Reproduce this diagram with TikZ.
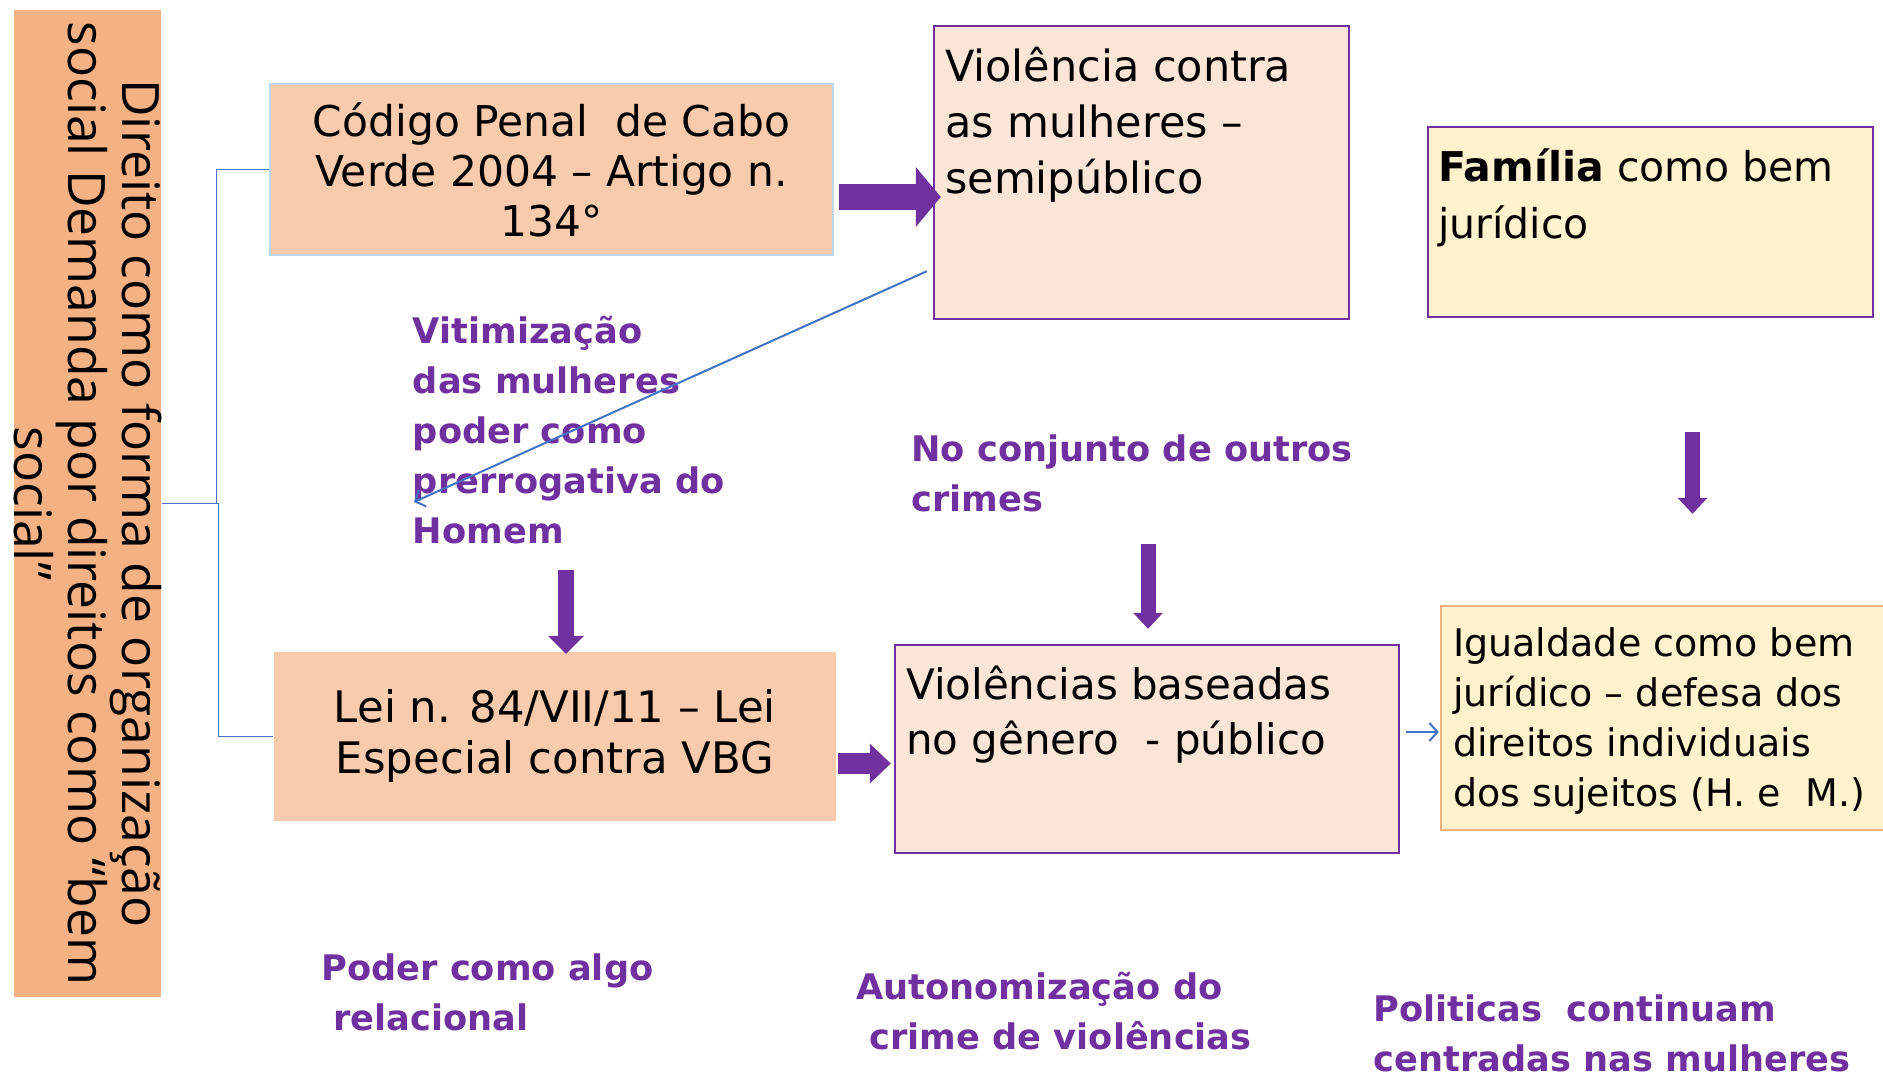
\documentclass[tikz,border=0pt]{standalone}
\usepackage{fontspec}
\setmainfont{DejaVu Sans}
\newfontfamily\barfont{Open Sans}
\usetikzlibrary{arrows.meta,calc,positioning}

\definecolor{barorange}{HTML}{F4B183}
\definecolor{peach}{HTML}{F8CBAD}
\definecolor{rosa}{HTML}{FBE5D6}
\definecolor{creme}{HTML}{FFF2CC}
\definecolor{roxo}{HTML}{7030A0}
\definecolor{azul}{HTML}{4472C4}
\definecolor{azulclaro}{HTML}{BDD7EE}

\begin{document}
\begin{tikzpicture}[x=0.5pt,y=-0.5pt,
  caixa/.style={rectangle,inner sep=0pt,line width=1.25pt},
  texto/.style={align=left,anchor=base west,inner sep=0pt},
  nota/.style={text=roxo,font=\bfseries\fontsize{17.6}{25}\selectfont,align=left,anchor=base west,inner sep=0pt},
  chave/.style={draw=azul,line width=0.7pt},
  fio/.style={draw=azul,line width=1pt,-{Straight Barb[length=4pt,width=9pt]}},
  seta/.style={draw=roxo,fill=roxo}]
\useasboundingbox (0,0) rectangle (1883,1077);

% caixas
\node[caixa,fill=barorange,minimum width=73.5pt,minimum height=493.5pt] (bar) at (87.5,503.5) {};
\node[rotate=-90,align=center,inner sep=0pt,font=\barfont\fontsize{25.8}{27}\selectfont] (bartxt) at (88,503.5)
  {Direito como forma de organização\\social Demanda por direitos como “bem\\social”};

\node[caixa,fill=peach,draw=azulclaro,line width=1pt,minimum width=281.5pt,minimum height=85.5pt,
  align=center,font=\fontsize{21.2}{25}\selectfont] (codigo) at (551.5,169.5)
  {Código Penal\ \ de Cabo\\Verde 2004 – Artigo n.\\134°};
\node[caixa,fill=rosa,draw=roxo,minimum width=207.5pt,minimum height=146.5pt] (violencia) at (1141.5,172.5) {};
\node[caixa,fill=creme,draw=roxo,minimum width=222.5pt,minimum height=95pt] (familia) at (1650.5,222) {};
\node[caixa,fill=peach,minimum width=281pt,minimum height=84.5pt,
  align=center,font=\fontsize{21.7}{25.5}\selectfont] (lei) at (555,736.5)
  {Lei n. 84/VII/11 – Lei\\Especial contra VBG};
\node[caixa,fill=rosa,draw=roxo,minimum width=252pt,minimum height=104pt] (baseadas) at (1147,749) {};
\node[caixa,fill=creme,draw=barorange,minimum width=222pt,minimum height=112pt] (igualdade) at (1663,718) {};

% textos das caixas (ancora na ultima linha)
\node[texto,font=\fontsize{21.5}{28}\selectfont] (violenciatxt) at ($(violencia.north west)+(12,169)$)
  {Violência contra\\as mulheres –\\semipúblico};
\node[texto,font=\fontsize{20.5}{28.5}\selectfont] (familiatxt) at ($(familia.north west)+(11,113)$)
  {\textbf{Família} como bem\\jurídico};
\node[texto,font=\fontsize{21}{27.5}\selectfont] (baseadastxt) at ($(baseadas.north west)+(12,111)$)
  {Violências baseadas\\no gênero\ \ - público};
\node[texto,font=\fontsize{19}{25}\selectfont] (igualdadetxt) at ($(igualdade.north west)+(13,202)$)
  {Igualdade como bem\\jurídico – defesa dos\\direitos individuais\\dos sujeitos (H. e\ \ M.)};

% notas
\node[nota] (vitim) at (412.5,543) {Vitimização\\das mulheres\\poder como\\prerrogativa do\\Homem};
\node[nota] (conjunto) at (911,511) {No conjunto de outros\\crimes};
\node[nota] (poder) at (321,1030) {Poder como algo\\\hspace*{6pt}relacional};
\node[nota] (autonom) at (856,1049) {Autonomização do\\\hspace*{6.5pt}crime de violências};
\node[nota] (politicas) at (1373,1071) {Politicas\ \ continuam\\centradas nas mulheres};

\coordinate (vitimtip) at (414,502);

% ligacoes
\draw[chave] (bar.east) -- ++(54,0) |- (codigo.west);
\draw[chave] (bar.east) -- ++(56,0) |- (lei.west);

\draw[seta,line width=13pt,-{Triangle[length=12.5pt,width=30pt,line width=0pt]}]
  ($(codigo.east)+(5,27.5)$) -- ($(violencia.west)+(8,24.5)$);
\draw[seta,line width=10.5pt,-{Triangle[length=10.5pt,width=20pt,line width=0pt]}]
  ($(lei.east)+(1,27)$) -- ($(baseadas.west)+(-3,14.5)$);
\draw[seta,line width=8pt,-{Triangle[length=9pt,width=18pt,line width=0pt]}]
  ($(vitim.base west)+(153.5,27)$) -- ($(lei.north)+(11,3)$);
\draw[seta,line width=7.5pt,-{Triangle[length=8pt,width=15pt,line width=0pt]}]
  ($(conjunto.base west)+(237,33)$) -- ($(baseadas.north)+(1,-15)$);
\draw[seta,line width=7.5pt,-{Triangle[length=8pt,width=15pt,line width=0pt]}]
  ($(familia.south)+(42,114)$) -- ($(igualdade.north)+(29.5,-91)$);

\draw[fio] ($(violencia.south west)+(-6,-49)$) -- (vitimtip);
\draw[fio] ($(baseadas.east)+(6,-17)$) -- ($(igualdade.west)+(-1,14)$);
\end{tikzpicture}
\end{document}
